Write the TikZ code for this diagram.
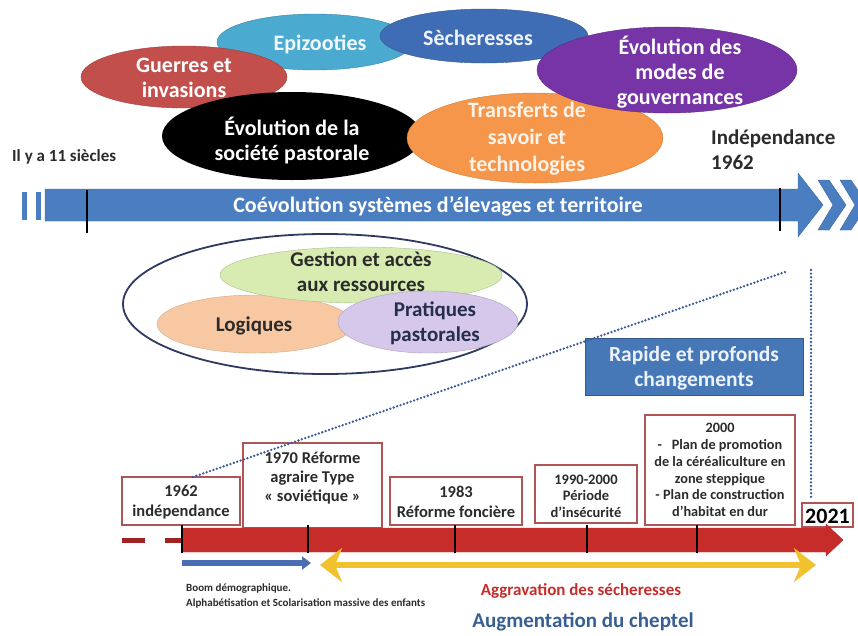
\documentclass[tikz,border=0pt]{standalone}
\usepackage{fontspec}
\setmainfont{Carlito}
\usetikzlibrary{shapes.geometric,arrows.meta}

\definecolor{cRed}{HTML}{C24F4C}
\definecolor{cTeal}{HTML}{4AAAD0}
\definecolor{cBlue}{HTML}{3E6CB5}
\definecolor{cPurple}{HTML}{7634A6}
\definecolor{cOrange}{HTML}{F5964A}
\definecolor{cBar}{HTML}{4A7EC1}
\definecolor{cNavy}{HTML}{2E3A60}
\definecolor{cGreen}{HTML}{D8ECB2}
\definecolor{cPeach}{HTML}{F8C8A2}
\definecolor{cLav}{HTML}{D6C8EA}
\definecolor{cBox}{HTML}{B05555}
\definecolor{cTimeRed}{HTML}{C62D2A}
\definecolor{cYellow}{HTML}{F2C12E}
\definecolor{cArrowBlue}{HTML}{4A6DB3}
\definecolor{cDots}{HTML}{3B5A96}
\definecolor{cDark}{HTML}{2B2B2B}

\newcommand\fsz[2]{\fontsize{#1}{#2}\selectfont}

\tikzset{
  ell/.style={ellipse, inner sep=0pt},
  lbl/.style={align=center, inner sep=0pt, font=\bfseries\fsz{22}{25}},
  tbox/.style={rectangle, draw=cBox, line width=1.1pt, fill=white, inner sep=0pt},
  tlbl/.style={align=center, inner sep=0pt, text=cDark},
  tick/.style={line width=2.6pt, black},
  dots/.style={line width=2.6pt, cDots, line cap=round, dash pattern=on 0pt off 3.6pt},
}

\begin{document}
\begin{tikzpicture}[x=1pt,y=-1pt]
\useasboundingbox (0,0) rectangle (858,635);
\fill[white] (0,0) rectangle (858,635);

% ---- factors of change (top ellipses)
\node[ell, fill=cTeal, draw=cTeal!80!black, minimum width=196, minimum height=56] (e-epi) at (315,42) {};
\node[ell, fill=cRed, draw=cRed!80!black, minimum width=206, minimum height=62] (e-war) at (184,77) {};
\node[ell, fill=cBlue, draw=cBlue!80!black, minimum width=208, minimum height=54] (e-dry) at (484,36) {};
\node[ell, fill=black, minimum width=260, minimum height=88] (e-soc) at (292,136) {};
\node[ell, fill=cOrange, draw=cOrange!85!black, minimum width=256, minimum height=90] (e-tech) at (535,138) {};
\node[ell, fill=cPurple, draw=cPurple!80!black, minimum width=260, minimum height=86] (e-gov) at (667,70) {};

\node[lbl, text=white] (t-war) at (184,78) {Guerres et\\invasions};
\node[lbl, text=white!92!cTeal] (t-epi) at (320,44) {Epizooties};
\node[lbl, text=white!92!cBlue] (t-dry) at (478,38) {Sècheresses};
\node[lbl, text=white] (t-soc) at (292,140) {Évolution de la\\société pastorale};
\node[lbl, text=white!88!cOrange, font=\bfseries\fsz{22}{27}] (t-tech) at (527,139) {Transferts de\\savoir et\\technologies};
\node[lbl, text=white] (t-gov) at (680,72) {Évolution des\\modes de\\gouvernances};

\node[inner sep=0pt, anchor=west, font=\bfseries\fsz{17}{18}, text=cDark] (t-past) at (12,157) {Il y a 11 siècles};
\node[inner sep=0pt, anchor=west, align=left, font=\bfseries\fsz{21}{25}, text=cDark] (t-indep) at (711,150) {Indépendance\\1962};

% ---- long timeline
\fill[cBar] (22,192) rectangle (27,220);
\fill[cBar] (36,192) rectangle (41,220);
\fill[cBar, draw=cBar!85!black] (45,189) -- (798,189) -- (798,173) -- (823,205) -- (798,237) -- (798,221) -- (45,221) -- cycle;
\fill[cBar, draw=cBar!85!black] (818,180) -- (829,180) -- (846,205) -- (829,230) -- (818,230) -- (833,205) -- cycle;
\fill[cBar, draw=cBar!85!black] (840,180) -- (851,180) -- (868,205) -- (851,230) -- (840,230) -- (855,205) -- cycle;
\draw[tick] (87,190) -- (87,233);
\draw[tick] (780,188) -- (780,231);
\node[lbl, text=white, font=\bfseries\fsz{22}{24}] (t-bar) at (438,206) {Coévolution systèmes d'élevages et territoire};

% ---- components of the pastoral system
\node[ell, draw=cNavy, line width=1.8pt, fill=white, minimum width=404, minimum height=140] (e-sys) at (325,304) {};
\node[ell, fill=cPeach, draw=cPeach!85!black, minimum width=196, minimum height=58] (e-log) at (255,324) {};
\node[ell, fill=cGreen, draw=cGreen!80!black, minimum width=282, minimum height=56] (e-res) at (361,275) {};
\node[ell, fill=cLav, draw=cLav!80!black, minimum width=180, minimum height=62] (e-pra) at (428,322) {};
\node[lbl, text=cDark, font=\bfseries\fsz{21}{25}] (t-res) at (361,272) {Gestion et accès\\aux ressources};
\node[lbl, text=cDark, font=\bfseries\fsz{21}{25}] (t-log) at (254,326) {Logiques};
\node[lbl, text=cNavy!80!black, font=\bfseries\fsz{21}{25}] (t-pra) at (435,323) {Pratiques\\pastorales};

% ---- zoom onto the recent period
\node[rectangle, fill=cBar!95!black, draw=cBar!70!black, minimum width=218, minimum height=57, inner sep=0pt] (b-fast) at (694,366.5) {};
\node[lbl, text=white!90!cBar, font=\bfseries\fsz{21.5}{25}] (t-fast) at (694,368) {Rapide et profonds\\changements};

% ---- recent timeline boxes
\node[tbox, minimum width=118, minimum height=48] (b62) at (181,501) {};
\node[tbox, minimum width=139, minimum height=85] (b70) at (312.5,485.5) {};
\node[tbox, minimum width=132, minimum height=48] (b83) at (456,501) {};
\node[tbox, minimum width=102, minimum height=58] (b90) at (586,494) {};
\node[tbox, minimum width=150, minimum height=110] (b00) at (720,470) {};
\node[tbox, minimum width=51, minimum height=24] (b21) at (827.5,515) {};

\node[tlbl, font=\bfseries\fsz{16.5}{19.5}] (t62) at (181,502) {1962\\indépendance};
\node[tlbl, font=\bfseries\fsz{16.5}{19}] (t70) at (312.5,478) {1970 Réforme\\agraire Type\\« soviétique »};
\node[tlbl, font=\bfseries\fsz{16.5}{19.5}] (t83) at (456,502) {1983\\Réforme foncière};
\node[tlbl, font=\bfseries\fsz{14.5}{16.5}] (t90) at (586,496) {1990-2000\\Période\\d'insécurité};
\node[tlbl, font=\bfseries\fsz{14.3}{16.8}] (t00) at (720,470) {2000\\-\ \ \ Plan de promotion\\de la céréaliculture en\\zone steppique\\- Plan de construction\\d'habitat en dur};
\node[tlbl, text=black, font=\bfseries\fsz{22}{24}] (t21) at (827.5,516) {2021};

\coordinate (z-a) at (193,477);
\coordinate (z-b) at (785,272);
\coordinate (z-c) at (811,270);
\coordinate (z-d) at (811,500);
\draw[dots] (z-a) -- (z-b);
\draw[dots] (z-c) -- (z-d);

% ---- recent timeline arrow
\draw[line width=5pt, cTimeRed!80!black] (122,540) -- (145,540);
\draw[line width=5pt, cTimeRed!80!black] (165,540) -- (182,540);
\fill[cTimeRed, draw=cTimeRed!85!black] (182,528) -- (826,528) -- (826,524) -- (843,540) -- (826,556) -- (826,552) -- (182,552) -- cycle;
\foreach \x in {182,308,455,587,697} \draw[tick] (\x,525) -- (\x,553);

\coordinate (p-boom0) at (182,563);
\coordinate (p-boom1) at (311,563);
\draw[line width=6pt, cArrowBlue, -{Triangle[length=9pt,width=13pt]}] (p-boom0) -- (p-boom1);
\coordinate (p-dry0) at (320,565);
\coordinate (p-dry1) at (816,565);
\draw[line width=6pt, cYellow, {Stealth[length=22pt,width=34pt,inset=7pt]}-{Stealth[length=22pt,width=34pt,inset=7pt]}] (p-dry0) -- (p-dry1);

\node[inner sep=0pt, anchor=west, align=left, text=cDark, font=\bfseries\fsz{11}{15}] (t-boom) at (186,596) {Boom démographique.\\Alphabétisation et Scolarisation massive des enfants};
\node[inner sep=0pt, text=cTimeRed, font=\bfseries\fsz{17}{20}] (t-aggr) at (581,591) {Aggravation des sécheresses};
\node[inner sep=0pt, text=cBar!75!black, font=\bfseries\fsz{21}{24}] (t-cheptel) at (583,622) {Augmentation du cheptel};
\end{tikzpicture}
\end{document}
